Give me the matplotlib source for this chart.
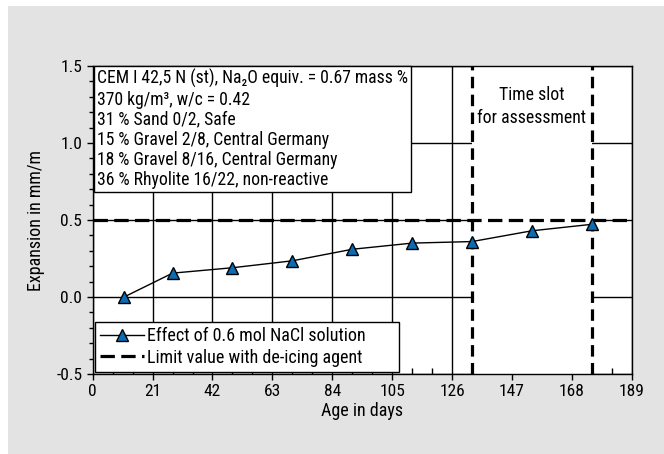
import matplotlib
matplotlib.use('Agg')
import matplotlib.pyplot as plt
from matplotlib.patches import Rectangle
from matplotlib.ticker import MultipleLocator, FormatStrFormatter
import logging
logging.getLogger('matplotlib.font_manager').setLevel(logging.ERROR)

plt.rcParams['font.family'] = ['Liberation Sans Narrow', 'Roboto Condensed', 'Archivo Narrow',
                               'PT Sans Narrow', 'Liberation Sans', 'DejaVu Sans']

# data
age_days = [11, 28, 49, 70, 91, 112, 133, 154, 175]
expansion = [0.00, 0.155, 0.19, 0.235, 0.31, 0.35, 0.36, 0.43, 0.472]
limit_value = 0.5
slot_start, slot_end = 133, 175

mix_lines = [
    'CEM I 42,5 N (st), Na\u2082O equiv. = 0.67 mass %',
    '370 kg/m\u00b3, w/c = 0.42',
    '31 % Sand 0/2, Safe',
    '15 % Gravel 2/8, Central Germany',
    '18 % Gravel 8/16, Central Germany',
    '36 % Rhyolite 16/22, non-reactive',
]
xticks = [0, 21, 42, 63, 84, 105, 126, 147, 168, 189]
yticks = [-0.5, 0.0, 0.5, 1.0, 1.5]

fig = plt.figure(figsize=(6.64, 4.54), dpi=100, facecolor='white')
bg = Rectangle((8 / 664, 0), 1, 448 / 454, transform=fig.transFigure,
               facecolor='#e2e3e2', edgecolor='none', zorder=-10)
fig.patches.append(bg)

ax = fig.add_axes([0.1396, 0.1762, 0.8118, 0.6784], zorder=1)
ax.set_facecolor('white')
ax.set_xlim(0, 189)
ax.set_ylim(-0.5, 1.5)
ax.set_axisbelow(True)
ax.grid(True, which='major', color='black', linewidth=1.0)

# time slot for assessment
ax.axvspan(slot_start, slot_end, facecolor='white', edgecolor='none', zorder=1)
for xv in (slot_start, slot_end):
    ax.axvline(xv, color='black', linewidth=2.3, dashes=(3.6, 2.0), zorder=3)
ax.text((slot_start + slot_end) / 2, 1.237, 'Time slot\nfor assessment',
        ha='center', va='center', fontsize=12.8, linespacing=1.4, zorder=4)

ax.plot(age_days, expansion, color='black', linewidth=1.0, marker='^',
        markersize=8, markerfacecolor='#0b6bb3', markeredgecolor='black',
        markeredgewidth=1.0, zorder=5, label='Effect of 0.6 mol NaCl solution')
ax.axhline(limit_value, color='black', linewidth=2.3, dashes=(4.5, 2.0), zorder=4,
           label='Limit value with de-icing agent')

ax.text(0.008, 0.99, '\n'.join(mix_lines), transform=ax.transAxes, ha='left', va='top',
        fontsize=12.7, linespacing=1.16, zorder=6,
        bbox=dict(boxstyle='square,pad=0.15', facecolor='white', edgecolor='black', linewidth=1.0))

leg = ax.legend(loc='lower left', bbox_to_anchor=(0.004, 0.006, 0.564, 0.2), mode='expand',
                fontsize=13, frameon=True, fancybox=False,
                edgecolor='black', framealpha=1, borderpad=0.3, labelspacing=0.2,
                handlelength=2.4, handletextpad=0.2, borderaxespad=0)
leg.get_frame().set_linewidth(1.0)
leg.set_zorder(7)

ax.set_xticks(xticks)
ax.set_yticks(yticks)
ax.yaxis.set_major_formatter(FormatStrFormatter('%.1f'))
ax.xaxis.set_minor_locator(MultipleLocator(7))
ax.yaxis.set_minor_locator(MultipleLocator(0.1))
ax.tick_params(axis='both', which='major', direction='out', length=4, width=1, labelsize=12.5, colors='black')
ax.tick_params(axis='x', which='minor', direction='in', length=4, width=1)
ax.tick_params(axis='y', which='minor', direction='out', length=3, width=1)
for s in ax.spines.values():
    s.set_linewidth(1.0)

ax.set_xlabel('Age in days', fontsize=13, labelpad=2)
ax.set_ylabel('Expansion in mm/m', fontsize=13, labelpad=8)

fig.savefig('out.png', dpi=100)
